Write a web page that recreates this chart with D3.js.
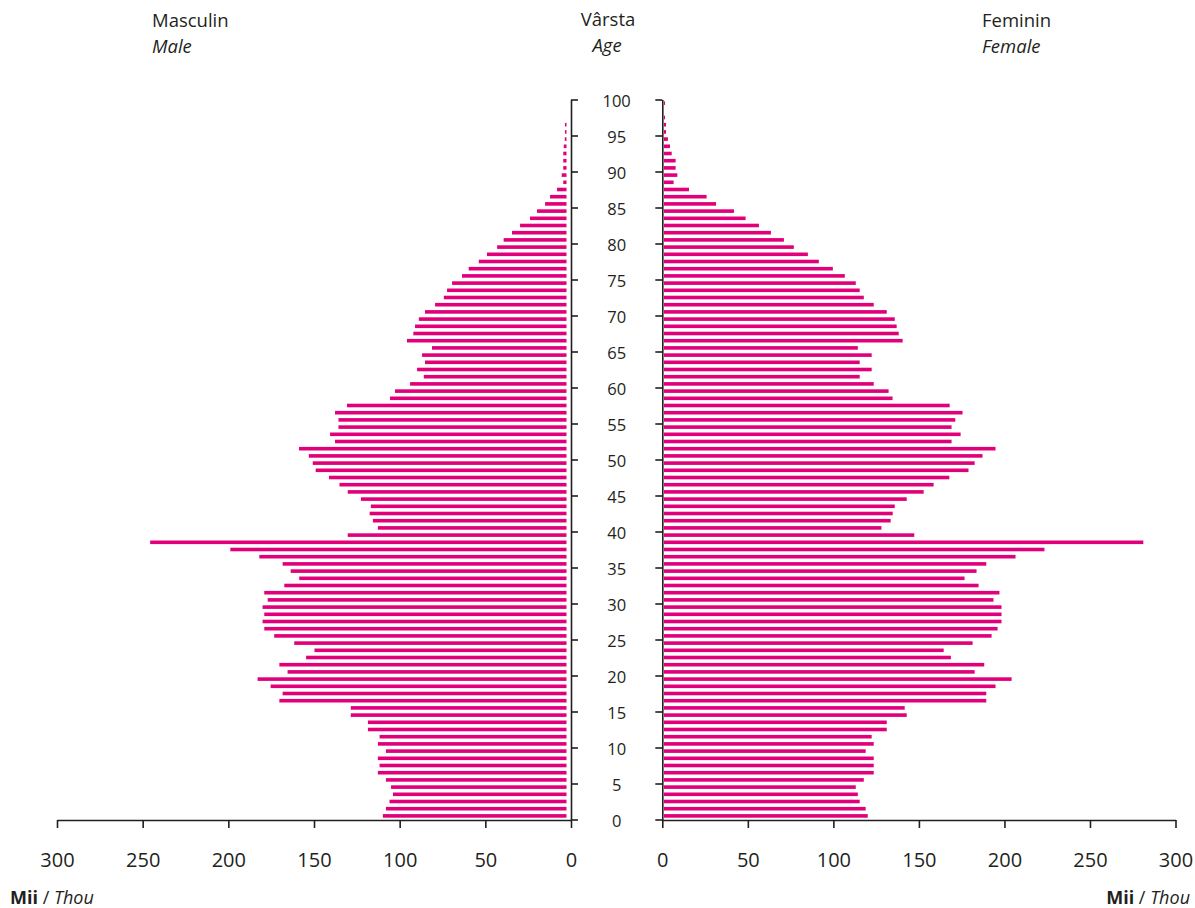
<!DOCTYPE html>
<html>
<head>
<meta charset="utf-8">
<script src="https://cdn.jsdelivr.net/npm/d3@7"></script>
<style>
  html, body { margin: 0; padding: 0; background: #fff; }
  svg { display: block; font-family: "Open Sans", sans-serif; }
</style>
</head>
<body>
<svg id="chart" width="1195" height="908"></svg>
<script>
// ---- Data (thousands), index = age 0..99 ----
const ages = d3.range(0, 100);
const male = [
  107.2,105.4,103.3,101.3,102.4,105.4,110.1,109.1,110.1,105.4,
  110.1,109.1,115.9,115.9,125.9,125.9,167.6,165.7,172.7,180.3,
  162.8,167.6,152.0,147.1,158.9,170.6,176.4,177.4,176.4,177.4,
  174.4,176.4,164.7,156.0,161.0,165.7,179.3,196.2,243.0,127.7,
  110.1,113.0,114.9,114.2,120.0,127.7,132.5,138.6,146.4,148.1,
  150.4,156.1,135.1,138.0,133.1,133.1,135.1,128.1,103.0,100.1,
  91.3,83.3,87.2,82.6,84.3,78.5,93.1,89.4,88.4,86.2,
  82.6,76.7,71.6,69.7,66.8,61.0,57.1,51.2,46.4,40.5,
  36.7,31.8,27.1,21.3,17.2,12.5,9.6,5.5,1.9,2.8,
  1.9,1.9,1.9,1.6,1.0,0.9,0.9,0,0,0
];
const female = [
  119.1,117.9,114.4,113.3,112.1,116.8,122.6,122.6,122.6,117.9,
  122.6,121.4,130.2,130.2,141.9,140.7,188.4,188.4,193.8,203.2,
  181.6,187.2,167.7,163.5,180.4,191.5,195.0,197.3,197.3,197.3,
  192.6,196.1,183.9,175.7,182.7,188.4,205.5,222.4,280.2,146.3,
  127.1,132.5,133.7,134.9,141.9,151.8,157.6,166.8,178.0,181.6,
  186.2,193.8,168.1,173.4,168.1,170.3,174.5,167.0,133.6,131.3,
  122.6,114.4,121.4,114.4,121.4,113.3,139.5,137.2,136.0,134.9,
  130.2,122.6,116.8,114.4,112.1,105.7,98.7,90.5,84.1,75.9,
  70.1,62.5,55.5,47.7,40.9,30.4,24.9,14.6,5.6,7.8,
  6.8,6.8,4.5,3.5,2.3,1.2,1.2,0.6,0,0.6
];
const valueTicks = [0, 50, 100, 150, 200, 250, 300];
const ageTicks = [0, 5, 10, 15, 20, 25, 30, 35, 40, 45, 50, 55, 60, 65, 70, 75, 80, 85, 90, 95, 100];

// ---- Layout ----
const barColor = "#e2007a";
const axisColor = "#231f20";
const svg = d3.select("#chart");

const xM = d3.scaleLinear().domain([0, 300]).range([571, 57]);
const xF = d3.scaleLinear().domain([0, 300]).range([662.3, 1175.5]);
const y = d3.scaleLinear().domain([0, 100]).range([819.5, 99.5]);
const barH = 3.6;
const gapM = 4.5, gapF = 1.7;

// Male bars
svg.append("g").selectAll("rect").data(ages.filter(a => male[a] > 0)).join("rect")
  .attr("x", a => xM(male[a]) - gapM)
  .attr("width", a => xM(0) - xM(male[a]))
  .attr("y", a => y(a + 0.5) - barH / 2)
  .attr("height", barH)
  .attr("fill", barColor);

// Female bars
svg.append("g").selectAll("rect").data(ages.filter(a => female[a] > 0)).join("rect")
  .attr("x", xF(0) + gapF)
  .attr("width", a => xF(female[a]) - xF(0))
  .attr("y", a => y(a + 0.5) - barH / 2)
  .attr("height", barH)
  .attr("fill", barColor);

// Bottom axes
function styleAxis(g) {
  g.selectAll(".domain").attr("stroke", axisColor).attr("stroke-width", 1.6);
  g.selectAll(".tick line").attr("stroke", axisColor).attr("stroke-width", 1.6);
  g.selectAll(".tick text").attr("fill", axisColor);
}
const gBM = svg.append("g").attr("transform", "translate(0,820)")
  .call(d3.axisBottom(xM).tickValues(valueTicks).tickSize(8).tickSizeOuter(0).tickPadding(25));
const gBF = svg.append("g").attr("transform", "translate(0,820)")
  .call(d3.axisBottom(xF).tickValues(valueTicks).tickSize(8).tickSizeOuter(0).tickPadding(25));
[gBM, gBF].forEach(g => {
  styleAxis(g);
  g.selectAll(".tick text").attr("font-size", 20).attr("font-family", "Open Sans, sans-serif");
});

// Vertical age axes
const gVM = svg.append("g").attr("transform", `translate(${xM(0)},0)`)
  .call(d3.axisRight(y).tickValues(ageTicks).tickSize(7).tickSizeOuter(0).tickFormat(""));
const gVF = svg.append("g").attr("transform", `translate(${xF(0)},0)`)
  .call(d3.axisLeft(y).tickValues(ageTicks).tickSize(7).tickSizeOuter(0).tickFormat(""));
[gVM, gVF].forEach(styleAxis);

// Age labels in the middle
svg.append("g").selectAll("text").data(ageTicks).join("text")
  .attr("x", (xM(0) + xF(0)) / 2)
  .attr("y", d => y(d) + 2)
  .attr("dy", "0.36em")
  .attr("text-anchor", "middle")
  .attr("font-size", 16.5)
  .attr("fill", axisColor)
  .text(d => d);

// Titles
const titles = [
  { x: 152, y: 27, t: "Masculin", it: false, anchor: "start" },
  { x: 152, y: 53, t: "Male", it: true, anchor: "start" },
  { x: 608, y: 26, t: "Vârsta", it: false, anchor: "middle" },
  { x: 607, y: 52, t: "Age", it: true, anchor: "middle" },
  { x: 982, y: 27, t: "Feminin", it: false, anchor: "start" },
  { x: 982, y: 53, t: "Female", it: true, anchor: "start" }
];
svg.append("g").selectAll("text").data(titles).join("text")
  .attr("x", d => d.x).attr("y", d => d.y)
  .attr("text-anchor", d => d.anchor)
  .attr("font-size", 18.5)
  .attr("font-style", d => d.it ? "italic" : "normal")
  .attr("fill", axisColor)
  .text(d => d.t);

// Unit labels
function unitLabel(x, anchor) {
  const t = svg.append("text").attr("x", x).attr("y", 904)
    .attr("text-anchor", anchor).attr("font-size", 18).attr("fill", axisColor);
  t.append("tspan").attr("font-weight", "bold").text("Mii");
  t.append("tspan").text(" / ");
  t.append("tspan").attr("font-style", "italic").text("Thou");
}
unitLabel(10, "start");
unitLabel(1190, "end");
</script>
</body>
</html>
